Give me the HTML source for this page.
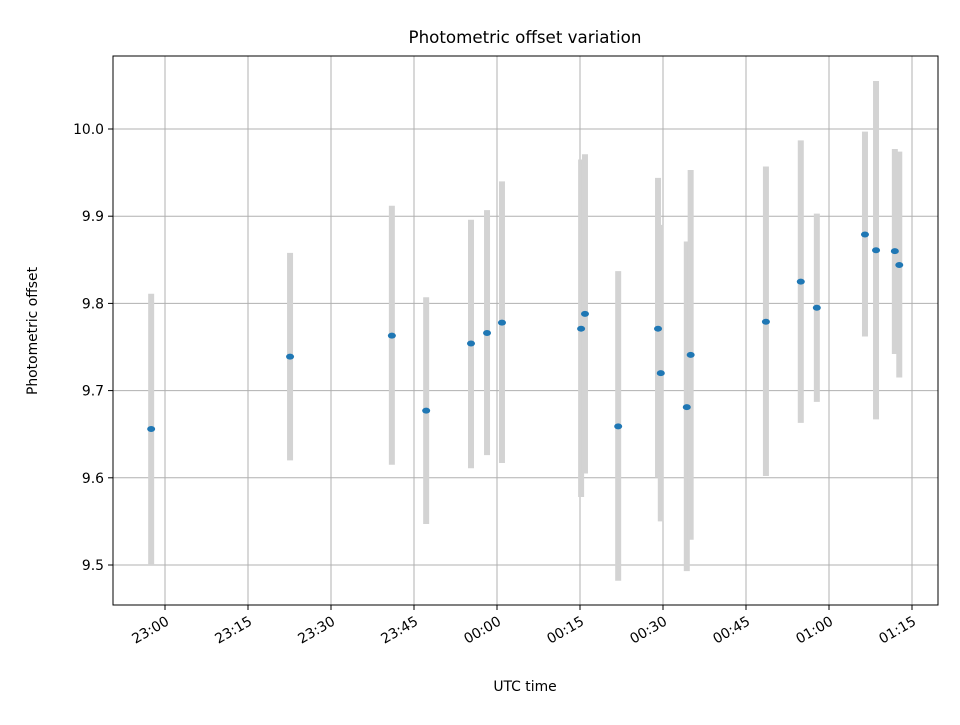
<!DOCTYPE html>
<html><head><meta charset="utf-8"><style>
body{margin:0;background:#fff}
svg text{font-family:"DejaVu Sans","Liberation Sans",sans-serif}
.t{font-size:16.7px}
.l{font-size:13.9px}
</style></head><body>
<svg id="chart" width="960" height="720" viewBox="0 0 960 720">
<rect width="960" height="720" fill="#fff"/>
<text class="t" x="525" y="43" text-anchor="middle" fill="#000">Photometric offset variation</text>
<g id="grid"></g><g id="bars"></g><g id="pts"></g><g id="axes"></g>
<text class="l" x="525" y="691" text-anchor="middle">UTC time</text>
<text class="l" transform="translate(37,331) rotate(-90)" text-anchor="middle">Photometric offset</text>
</svg>
<script>
// minutes after 23:00 UTC
const times=[-2.5,22.6,41.0,47.2,55.3,58.2,60.9,75.2,75.9,81.9,89.1,89.6,94.3,95.0,108.6,114.9,117.8,126.5,128.5,131.9,132.7];
const offsets=[9.656,9.739,9.763,9.677,9.754,9.766,9.778,9.771,9.788,9.659,9.771,9.720,9.681,9.741,9.779,9.825,9.795,9.879,9.861,9.860,9.844];
const errUp=[0.155,0.119,0.149,0.130,0.142,0.141,0.162,0.194,0.183,0.178,0.173,0.170,0.190,0.212,0.178,0.162,0.108,0.118,0.194,0.117,0.130];
const errDn=[0.156,0.119,0.148,0.130,0.143,0.140,0.161,0.193,0.183,0.177,0.171,0.170,0.188,0.212,0.177,0.162,0.108,0.117,0.194,0.118,0.129];
const xTicks=[0,15,30,45,60,75,90,105,120,135];
const xTickLabels=["23:00","23:15","23:30","23:45","00:00","00:15","00:30","00:45","01:00","01:15"];
const yTicks=[9.5,9.6,9.7,9.8,9.9,10.0];
const yTickLabels=["9.5","9.6","9.7","9.8","9.9","10.0"];
const L=113,R=938,T=56,B=605;
const x=m=>165+(m)*83/15;
const y=v=>565-(v-9.5)*872;
const NS="http://www.w3.org/2000/svg";
function mk(tag,attrs,parent){const e=document.createElementNS(NS,tag);for(const k in attrs)e.setAttribute(k,attrs[k]);document.getElementById(parent).appendChild(e);return e;}
xTicks.forEach((t,i)=>{
 const g=mk('line',{x1:x(t),x2:x(t),y1:T,y2:B,stroke:'#b0b0b0','stroke-width':1},'grid');
 
 
 mk('line',{x1:x(t),x2:x(t),y1:B,y2:B+5,stroke:'#000'},'axes');
 const tx=mk('text',{class:'l',x:0,y:0,'text-anchor':'end',transform:`translate(${x(t)+5},${B+19}) rotate(-30)`},'axes');
 tx.textContent=xTickLabels[i];
 
 
});
yTicks.forEach((t,i)=>{
 const g=mk('line',{x1:L,x2:R,y1:y(t),y2:y(t),stroke:'#b0b0b0','stroke-width':1},'grid');
 
 
 mk('line',{x1:L-5,x2:L,y1:y(t),y2:y(t),stroke:'#000'},'axes');
 const tx=mk('text',{class:'l',x:L-9,y:y(t)+5,'text-anchor':'end'},'axes');
 tx.textContent=yTickLabels[i];
 
 
});
const frame=mk('rect',{x:L,y:T,width:R-L,height:B-T,fill:'none',stroke:'#000','stroke-width':1},'axes');


times.forEach((t,i)=>{
 const b=mk('line',{x1:x(t),x2:x(t),y1:y(offsets[i]+errUp[i]),y2:y(offsets[i]-errDn[i]),stroke:'#d3d3d3','stroke-width':6},'bars');
 
 
 const p=mk('ellipse',{cx:x(t),cy:y(offsets[i]),rx:4,ry:3,fill:'#1f77b4'},'pts');
 
 
});
</script>
</body></html>
